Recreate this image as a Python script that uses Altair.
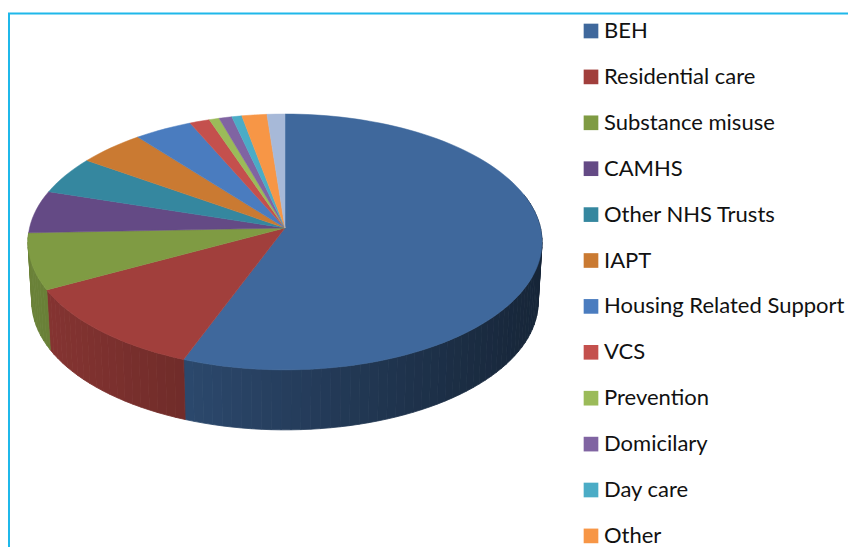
import math
import altair as alt
import pandas as pd

names = ["BEH", "Residential care", "Substance misuse", "CAMHS", "Other NHS Trusts", "IAPT",
         "Housing Related Support", "VCS", "Prevention", "Domicilary", "Day care", "Other", "Unlabelled"]
shares = [55.8, 11.5, 7.1, 5.4, 4.8, 4.65, 4.05, 1.4, 0.7, 0.9, 0.7, 1.75, 1.25]
colors = ["#3f689c", "#a13f3c", "#7f9b43", "#644a85", "#35879f", "#ca7a32", "#4a7cbf",
          "#c4504d", "#9bbb59", "#8064a2", "#4bacc6", "#f79646", "#a7b9d8"]

W, H = 840, 539
APEX_X, APEX_Y = 277.0, 220.0
RX, RY, PERSP = 255.5, 126.4, 0.109
DEPTH, SHRINK = 60.0, 0.985


def project(deg):
    """Clockwise angle from 12 o'clock on the disc to screen offset from the apex."""
    t = math.radians(deg)
    u, v = math.sin(t), -math.cos(t)
    return RX * u / (1 - PERSP * v), RY * v / (1 - PERSP * v)


def shade(hex_colour, factor):
    rgb = [int(hex_colour[i:i + 2], 16) for i in (1, 3, 5)]
    return "#" + "".join(f"{max(0, min(255, round(c * factor))):02x}" for c in rgb)


top_rows, rim_rows = [], []
cum = 0.0
for name, share, colour in zip(names, shares, colors):
    a0, a1 = cum * 3.6, (cum + share) * 3.6
    cum += share
    steps = max(2, int((a1 - a0) / 2))
    arc = [a0 + (a1 - a0) * k / steps for k in range(steps + 1)]
    pts = [(APEX_X, APEX_Y)] + [(APEX_X + project(a)[0], APEX_Y + project(a)[1]) for a in arc]
    pts.append(pts[0])
    for i, (x, y) in enumerate(pts):
        top_rows.append({"name": name, "i": i, "x": x, "y": y})
    # side wall, cut into narrow quads so the shading can run across it
    for k in range(steps):
        b0, b1 = arc[k], arc[k + 1]
        if max(b0, b1) < 75 or min(b0, b1) > 267.5:
            continue
        x0, y0 = project(b0)
        x1, y1 = project(b1)
        c = shade(colour, 0.6 - 0.24 * ((x0 + x1) / 2) / 257)
        quad = [(x0, y0), (x1, y1), (x1 * SHRINK, y1 + DEPTH), (x0 * SHRINK, y0 + DEPTH), (x0, y0)]
        qid = f"{name}-{k}"
        for i, (qx, qy) in enumerate(quad):
            rim_rows.append({"q": qid, "i": i, "x": APEX_X + qx, "y": APEX_Y + qy, "c": c})

xs = alt.Scale(domain=[0, W])
ys = alt.Scale(domain=[H, 0])

rim = alt.Chart(pd.DataFrame(rim_rows)).mark_line(strokeWidth=0.8, interpolate="linear").encode(
    x=alt.X("x:Q", scale=xs, axis=None),
    y=alt.Y("y:Q", scale=ys, axis=None),
    order="i:Q",
    detail="q:N",
    stroke=alt.Stroke("c:N", scale=None, legend=None),
    fill=alt.Fill("c:N", scale=None, legend=None),
)

top = alt.Chart(pd.DataFrame(top_rows)).mark_line(strokeWidth=0.5, interpolate="linear").encode(
    x=alt.X("x:Q", scale=xs, axis=None),
    y=alt.Y("y:Q", scale=ys, axis=None),
    order="i:Q",
    detail="name:N",
    stroke=alt.Stroke("name:N", scale=alt.Scale(domain=names, range=colors), legend=None),
    fill=alt.Fill("name:N", scale=alt.Scale(domain=names, range=colors), legend=alt.Legend(
        orient="none", legendX=572, legendY=12, title=None, values=names[:12],
        symbolType="square", symbolSize=215, symbolStrokeWidth=0, symbolOpacity=1,
        labelFont="Lato", labelFontSize=22, labelColor="#111111", labelOffset=2,
        rowPadding=23.9, labelLimit=300, padding=0,
    )),
)

frame_top = alt.Chart(pd.DataFrame({"a": [0]})).mark_rule(color="#1fb8ea", strokeWidth=2.2).encode(
    x=alt.value(0), x2=alt.value(W), y=alt.value(5.5))
frame_left = alt.Chart(pd.DataFrame({"a": [0]})).mark_rule(color="#1fb8ea", strokeWidth=2).encode(
    x=alt.value(1), y=alt.value(5), y2=alt.value(H))

chart = alt.layer(frame_top, frame_left, rim, top).resolve_scale(fill="independent", stroke="independent").properties(
    width=W, height=H, padding=0, autosize=alt.AutoSizeParams(type="none"), background="white"
).configure_view(stroke=None)

chart.save("out.html", embed_options={"renderer": "svg", "actions": False})
